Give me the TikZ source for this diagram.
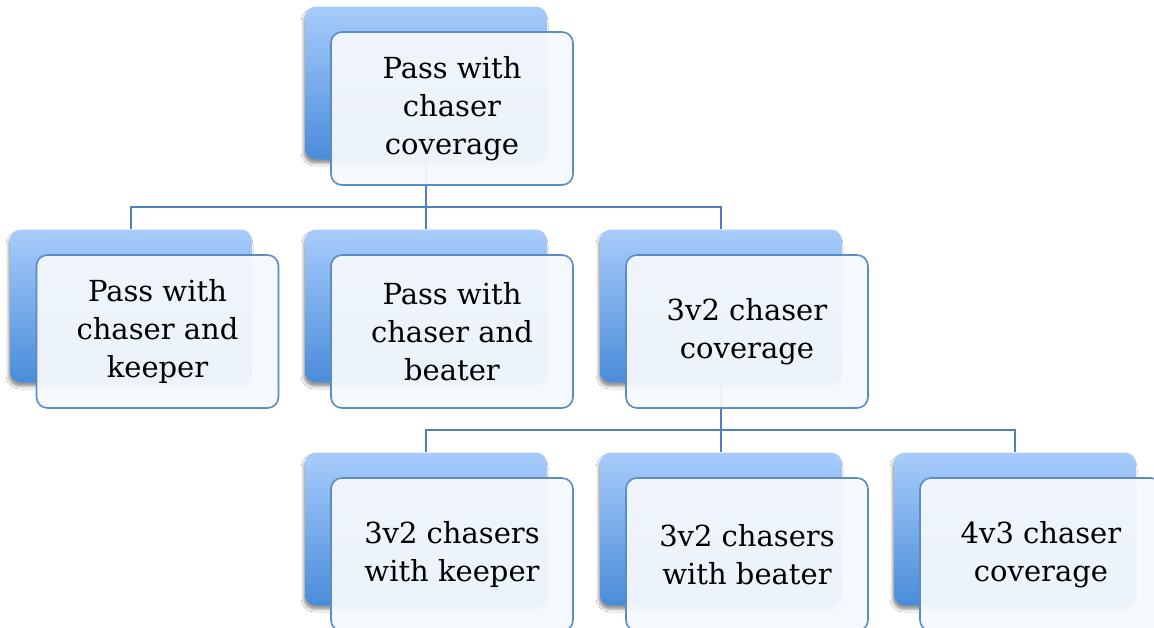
\documentclass[tikz,border=0pt]{standalone}
\usepackage{fontspec}
\setmainfont{DejaVu Serif}
\usetikzlibrary{shadows.blur}

\definecolor{backtop}{HTML}{A8CCFB}
\definecolor{backbot}{HTML}{4A8CD9}
\definecolor{frontfill}{HTML}{F5F8FC}
\definecolor{frontline}{HTML}{5A8DC8}
\definecolor{linkline}{HTML}{4F7FB8}

\tikzset{
  backbox/.style={rectangle, rounded corners=11pt, minimum width=242pt,
    minimum height=153pt, inner sep=0pt, top color=backtop, bottom color=backbot,
    draw=none,
    blur shadow={shadow xshift=-1.5pt, shadow yshift=-4pt, shadow blur radius=2.5pt,
      shadow opacity=40}},
  frontbox/.style={rectangle, rounded corners=11pt, minimum width=242pt,
    minimum height=153pt, inner sep=0pt, fill=frontfill, fill opacity=0.95,
    text opacity=1, draw=frontline, draw opacity=1, line width=1.6pt,
    align=center, font=\fontsize{29}{38}\selectfont, text=black},
  link/.style={draw=linkline, line width=1.7pt}
}

\begin{document}
\begin{tikzpicture}[x=1pt, y=-1pt]
  \useasboundingbox (0,0) rectangle (1154,627);
  \fill[white] (0,0) rectangle (1154,627);

  % back tiles
  \node[backbox] (topB) at (426,83) {};
  \node[backbox] (keepB) at (131,306) {};
  \node[backbox] (beatB) at (426,306) {};
  \node[backbox] (covB) at (721,306) {};
  \node[backbox] (ckB) at (426,529) {};
  \node[backbox] (cbB) at (721,529) {};
  \node[backbox] (fourB) at (1015,529) {};

  % junction points of the connectors
  \coordinate (j1) at (426,207);
  \coordinate (j2) at (721,430);

  % connectors
  \draw[link] (topB.south) -- (j1);
  \draw[link] (j1) -| (keepB.north);
  \draw[link] (j1) -- (beatB.north);
  \draw[link] (j1) -| (covB.north);
  \draw[link] (covB.south) -- (j2);
  \draw[link] (j2) -| (ckB.north);
  \draw[link] (j2) -- (cbB.north);
  \draw[link] (j2) -| (fourB.north);

  % front cards with text
  \node[frontbox] (top) at (452,108.5) {Pass with\\chaser\\coverage};
  \node[frontbox] (keep) at (157.5,331.5) {Pass with\\chaser and\\keeper};
  \node[frontbox] (beat) at (452,331.5) {Pass with\\chaser and\\beater};
  \node[frontbox] (cov) at (747,331.5) {3v2 chaser\\coverage};
  \node[frontbox] (ck) at (452,554.5) {3v2 chasers\\with keeper};
  \node[frontbox] (cb) at (747,554.5) {3v2 chasers\\with beater};
  \node[frontbox] (four) at (1041,554.5) {4v3 chaser\\coverage};
\end{tikzpicture}
\end{document}
